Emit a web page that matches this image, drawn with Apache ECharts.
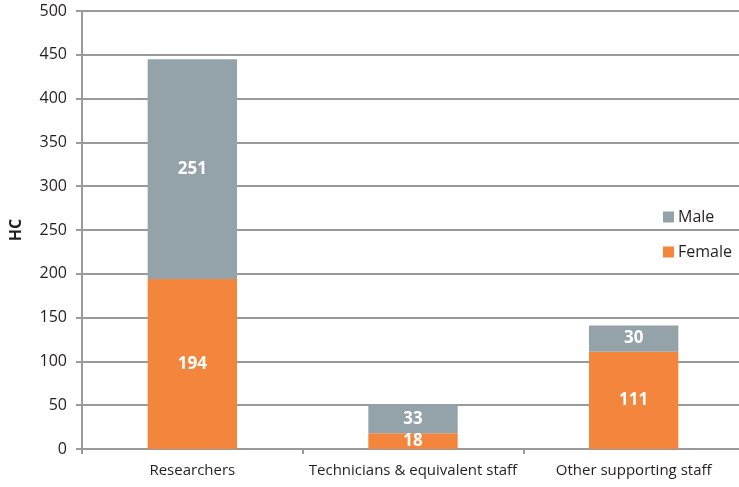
<!DOCTYPE html>
<html>
<head>
<meta charset="utf-8">
<script src="https://cdn.jsdelivr.net/npm/echarts@6/dist/echarts.min.js"></script>
<style>
  html, body { margin: 0; padding: 0; background: #fff; }
  #chart { width: 739px; height: 487px; }
</style>
</head>
<body>
<div id="chart"></div>
<script>
// Headcount by occupation, split by sex
const categories = ['Researchers', 'Technicians & equivalent staff', 'Other supporting staff'];
const female = [194, 18, 111];
const male = [251, 33, 30];
const yTicks = { min: 0, max: 500, interval: 50 };

const FONT = '"Open Sans", "Noto Sans", sans-serif';
const GRID_COLOR = '#9a9a9a';
const TEXT_COLOR = '#231f20';
const chart = echarts.init(document.getElementById('chart'), null, { renderer: 'canvas' });

const barLabel = {
  show: true,
  position: 'inside',
  color: '#fff',
  fontFamily: FONT,
  fontWeight: 'bold',
  fontSize: 17
};

chart.setOption({
  animation: false,
  grid: { left: 82, top: 11, width: 662, height: 438, containLabel: false, outerBoundsMode: 'none' },
  legend: {
    data: ['Male', 'Female'],
    orient: 'vertical',
    left: 658,
    top: 202,
    itemWidth: 11,
    itemHeight: 11,
    itemGap: 15,
    icon: 'rect',
    textStyle: { fontFamily: FONT, fontSize: 16, lineHeight: 20, color: TEXT_COLOR, padding: [0, 0, 0, -1] }
  },
  xAxis: {
    type: 'category',
    data: categories,
    axisLine: { lineStyle: { color: GRID_COLOR, width: 2 } },
    axisTick: { show: true, length: 5, lineStyle: { color: GRID_COLOR, width: 2 } },
    axisLabel: { interval: 0, fontFamily: FONT, fontSize: 15, color: TEXT_COLOR, margin: 14 }
  },
  yAxis: {
    type: 'value',
    min: yTicks.min,
    max: yTicks.max,
    interval: yTicks.interval,
    name: 'HC',
    nameLocation: 'middle',
    nameGap: 58,
    nameRotate: 90,
    nameTextStyle: { fontFamily: FONT, fontWeight: 'bold', fontSize: 16, color: TEXT_COLOR },
    axisLine: { show: true, lineStyle: { color: GRID_COLOR, width: 2 } },
    axisTick: { show: true, length: 6, lineStyle: { color: GRID_COLOR, width: 2 } },
    splitLine: { lineStyle: { color: GRID_COLOR, width: 2 } },
    axisLabel: { fontFamily: FONT, fontSize: 16, color: TEXT_COLOR, margin: 15 }
  },
  series: [
    {
      name: 'Female',
      type: 'bar',
      stack: 'hc',
      data: female,
      barWidth: '40.5%',
      itemStyle: { color: '#F4853C' },
      label: barLabel
    },
    {
      name: 'Male',
      type: 'bar',
      stack: 'hc',
      data: male,
      barWidth: '40.5%',
      itemStyle: { color: '#94A2AA' },
      label: barLabel
    }
  ]
});
</script>
</body>
</html>
